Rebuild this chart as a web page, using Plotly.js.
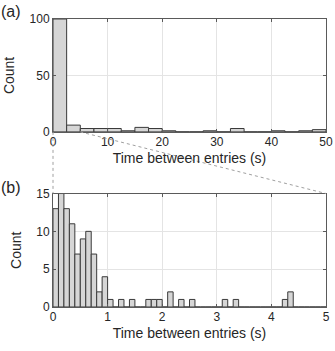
<!DOCTYPE html>
<html><head><meta charset="utf-8">
<script src="https://cdn.plot.ly/plotly-3.0.1.min.js"></script>
<style>html,body{margin:0;padding:0;background:#fff}#c{width:335px;height:351px}</style>
</head><body><div id="c"></div>
<script>
// Panel (a): bins of 2.5 s from 0 to 50
const binStartsA = [0,2.5,5,7.5,10,12.5,15,17.5,20,22.5,25,27.5,30,32.5,35,37.5,40,42.5,45,47.5];
const countsA    = [100,6,3,3,3,1,4,3,1,0,0,1,0,3,0,0,1,0,1,2];
// Panel (b): bins of 0.1 s from 0 to 5
const binStartsB = [0,0.1,0.2,0.3,0.4,0.5,0.6,0.7,0.8,0.9,1.0,1.1,1.2,1.3,1.4,1.5,1.6,1.7,1.8,1.9,2.0,2.1,2.2,2.3,2.4,2.5,2.6,2.7,2.8,2.9,3.0,3.1,3.2,3.3,3.4,3.5,3.6,3.7,3.8,3.9,4.0,4.1,4.2,4.3,4.4,4.5,4.6,4.7,4.8,4.9];
const countsB    = [13,15,13,11,7,9,10,7,2,4,1,0,1,0,1,0,0,1,1,1,0,2,0,1,0,1,0,0,0,0,0,1,0,1,0,0,0,0,0,0,0,0,1,2,0,0,0,0,0,0];
const ticksAX = [0,10,20,30,40,50];
const ticksAY = [0,50,100];
const ticksBX = [0,1,2,3,4,5];
const ticksBY = [0,5,10,15];
const xTitle = 'Time between entries (s)';
const yTitle = 'Count';

const fill = '#d6d6d6', edge = '#3a3a3a';
const traces = [
  {type:'bar', x:binStartsA, y:countsA, width:2.5, offset:0, xaxis:'x', yaxis:'y',
   marker:{color:fill, line:{color:edge, width:1}}, hoverinfo:'none'},
  {type:'bar', x:binStartsB, y:countsB, width:0.1, offset:0, xaxis:'x2', yaxis:'y2',
   marker:{color:fill, line:{color:edge, width:1}}, hoverinfo:'none'}
];
const txt = '#262626';
const font = {family:'Liberation Sans, Arial, sans-serif', size:12, color:txt};
const ax = (extra) => Object.assign({
  showline:true, mirror:'ticks', linecolor:'#5a5a5a', linewidth:1,
  ticks:'inside', ticklen:3, tickcolor:'#5a5a5a',
  showgrid:true, gridcolor:'#e4e4e4', gridwidth:1, zeroline:false,
  tickfont:{size:12, color:txt}, fixedrange:true
}, extra);
const layout = {
  width:335, height:351, margin:{l:53, r:9, t:19, b:44},
  paper_bgcolor:'#fff', plot_bgcolor:'#fff', showlegend:false, bargap:0,
  font:font,
  xaxis: ax({domain:[0,1], range:[0,50], tickvals:ticksAX, anchor:'y', ticklabelstandoff:-1,
    title:{text:xTitle, font:{size:14, color:txt}, standoff:4}}),
  yaxis: ax({domain:[0.608,1], range:[0,100], tickvals:ticksAY, anchor:'x',
    title:{text:yTitle, font:{size:14, color:txt}, standoff:11}}),
  xaxis2: ax({domain:[0,1], range:[0,5], tickvals:ticksBX, anchor:'y2', ticklabelstandoff:-1,
    title:{text:xTitle, font:{size:14, color:txt}, standoff:4}}),
  yaxis2: ax({domain:[0,0.394], range:[0,15], tickvals:ticksBY, anchor:'x2',
    title:{text:yTitle, font:{size:14, color:txt}, standoff:11}}),
  shapes:[
    {type:'line', xref:'paper', yref:'paper', x0:0, y0:0.608, x1:0, y1:0.394,
     line:{color:'#a0a0a0', width:1, dash:'dot'}, layer:'above'},
    {type:'line', xref:'paper', yref:'paper', x0:0.1, y0:0.608, x1:1, y1:0.394,
     line:{color:'#a0a0a0', width:1, dash:'dot'}, layer:'above'}
  ],
  annotations:[
    {text:'(a)', xref:'paper', yref:'paper', x:-0.196, y:1.062, xanchor:'left', yanchor:'top', showarrow:false, font:{size:16, color:txt}},
    {text:'(b)', xref:'paper', yref:'paper', x:-0.196, y:0.452, xanchor:'left', yanchor:'top', showarrow:false, font:{size:16, color:txt}}
  ]
};
Plotly.newPlot('c', traces, layout, {displayModeBar:false, staticPlot:true});
</script></body></html>
